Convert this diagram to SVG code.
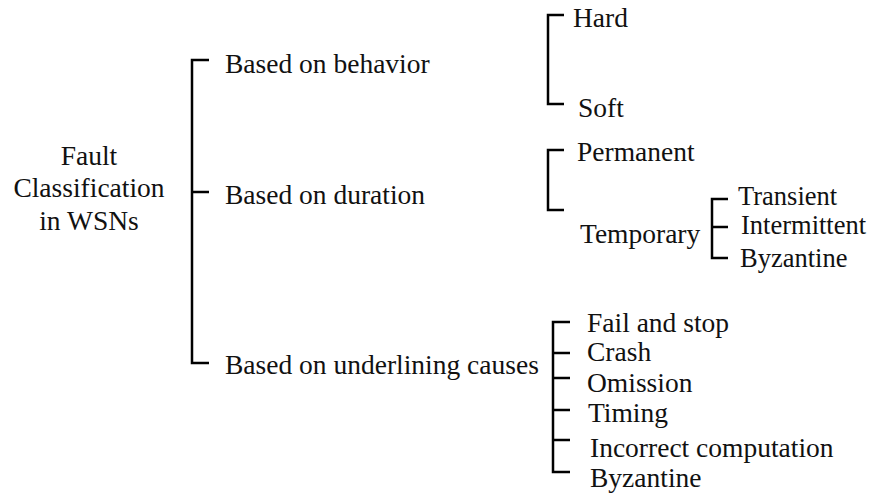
<svg xmlns="http://www.w3.org/2000/svg" width="872" height="494" viewBox="0 0 872 494">
  <style>
    text { font-family: "Liberation Serif", "Times New Roman", serif; font-size: 27.5px; fill: #111; }
    .root { text-anchor: middle; }
    .sub { font-size: 26.5px; }
    .br { fill: none; stroke: #000; stroke-width: 2.5; stroke-linejoin: miter; stroke-linecap: butt; }
  </style>
  <rect width="872" height="494" fill="#fff"/>

  <!-- bracket connectors -->
  <g id="connectors">
    <path class="br" d="M209,60 H192 V363 H209 M192,192 H209"/>
    <path class="br" d="M564,15 H548 V104 H564"/>
    <path class="br" d="M564,150 H548 V210 H564"/>
    <path class="br" d="M728,199 H712 V258 H728 M712,227 H728"/>
    <path class="br" d="M570,322 H553 V472 H570 M553,353 H570 M553,378 H570 M553,410 H570 M553,440 H570"/>
  </g>

  <g id="root">
    <text class="root" x="89" y="165">Fault</text>
    <text class="root" x="89" y="197">Classification</text>
    <text class="root" x="89" y="230">in WSNs</text>
  </g>

  <g id="behavior"><text x="225" y="73">Based on behavior</text></g>
  <g id="duration"><text x="225" y="204">Based on duration</text></g>
  <g id="causes"><text x="225" y="374">Based on underlining causes</text></g>

  <g id="hard"><text x="573" y="27">Hard</text></g>
  <g id="soft"><text x="578" y="117">Soft</text></g>

  <g id="permanent"><text x="577" y="161">Permanent</text></g>
  <g id="temporary"><text x="580" y="243">Temporary</text></g>

  <g id="transient"><text class="sub" x="738" y="205">Transient</text></g>
  <g id="intermittent"><text class="sub" x="741" y="234">Intermittent</text></g>
  <g id="byzantine-temp"><text class="sub" x="740" y="267">Byzantine</text></g>

  <g id="fail-stop"><text x="587" y="332">Fail and stop</text></g>
  <g id="crash"><text x="587" y="361">Crash</text></g>
  <g id="omission"><text x="587" y="392">Omission</text></g>
  <g id="timing"><text x="588" y="422">Timing</text></g>
  <g id="incorrect"><text x="590" y="457">Incorrect computation</text></g>
  <g id="byzantine-cause"><text x="590" y="487">Byzantine</text></g>
</svg>
